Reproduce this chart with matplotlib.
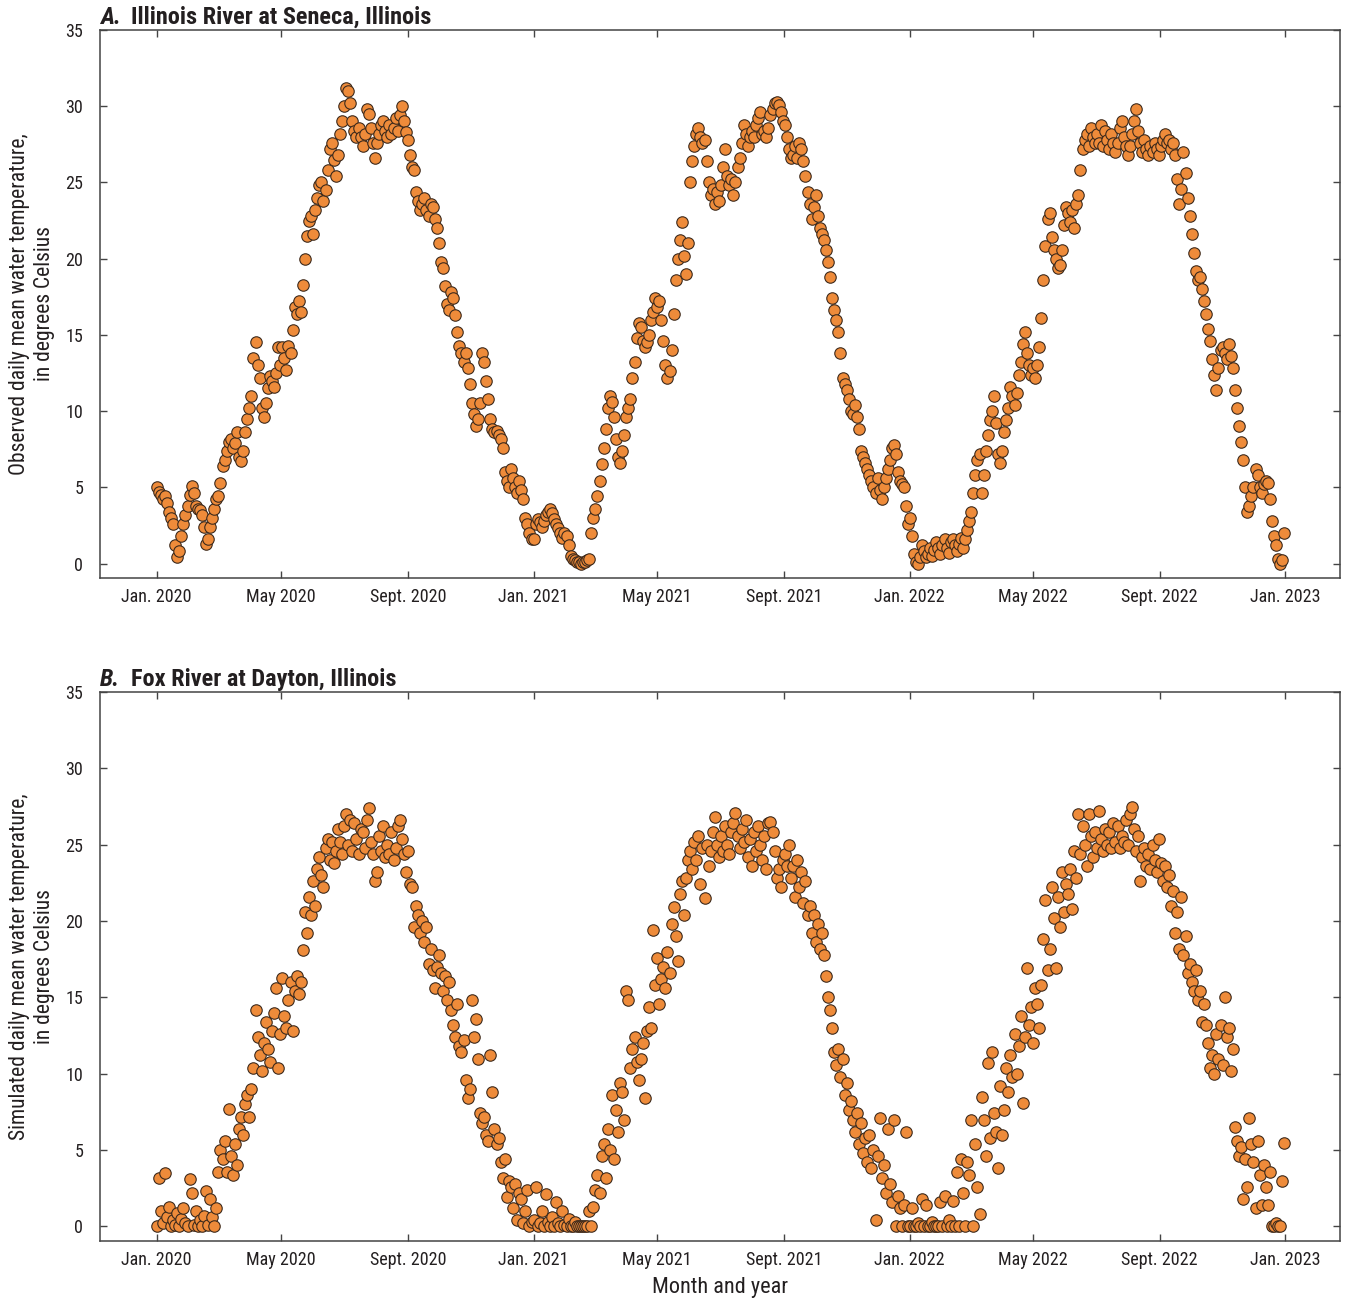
import numpy as np
import pandas as pd
import matplotlib
matplotlib.use("Agg")
import matplotlib.pyplot as plt
from matplotlib import font_manager

# observed daily mean water temperature, Illinois River at Seneca (every 2nd day)
seneca_2020 = [5.0, 4.7, 4.5, 4.2, 4.4, 4.0, 3.4, 3.0, 2.6, 1.2, 0.4, 0.8, 1.8, 2.6, 3.2, 3.8,
               4.5, 5.1, 4.6, 3.8, 3.6, 3.5, 3.2, 2.4, 1.3, 1.6, 2.4, 3.0, 3.6, 4.2,
               4.4, 5.3, 6.4, 6.8, 7.4, 8.0, 8.2, 7.6, 7.9, 8.6, 7.0, 6.7, 7.4, 8.6, 9.5, 10.2,
               11.0, 13.5, 14.5, 13.0, 12.2, 10.2, 9.6, 10.5, 11.5, 12.3, 12.0, 11.6, 12.5, 14.2, 13.0,
               14.2, 13.5, 12.7, 14.3, 13.8, 15.3, 16.8, 16.4, 17.2, 16.5, 18.3, 20.0, 21.5, 22.5, 22.8, 21.6,
               23.2, 24.0, 24.8, 25.0, 23.8, 24.5, 25.8, 27.2, 27.6, 26.5, 25.4, 26.8, 28.2, 29.0, 30.0,
               31.2, 31.0, 30.2, 29.0, 28.4, 28.0, 28.6, 28.0, 27.4, 28.2, 29.8, 29.5, 28.6, 27.6, 26.6,
               27.6, 28.2, 28.8, 29.0, 28.4, 28.0, 28.8, 28.2, 28.6, 29.2, 28.4, 29.4, 30.0, 29.0, 28.3,
               27.8, 26.8, 26.0, 25.8, 24.4, 23.8, 23.2, 23.6, 24.0, 23.2, 22.8, 23.6, 23.4, 22.6, 22.0,
               21.0, 19.8, 19.4, 18.2, 17.0, 16.6, 17.8, 17.4, 16.3, 15.2, 14.3, 13.8, 13.2, 13.8, 12.8, 11.8,
               10.5, 9.8, 9.0, 9.5, 10.5, 13.8, 13.2, 12.0, 10.8, 9.5, 8.8, 8.6, 8.7, 8.4, 8.2,
               7.6, 6.0, 5.4, 5.0, 6.2, 5.6, 5.0, 4.6, 5.4, 4.8, 4.2, 3.0, 2.6, 2.0, 1.6]
seneca_2021 = [1.6, 2.6, 2.9, 2.7, 2.4, 2.8, 3.2, 3.4, 3.6, 3.3, 2.9, 2.6, 2.3, 2.0, 1.7, 2.0,
               1.8, 1.2, 0.5, 0.3, 0.2, 0.1, 0.1, 0.0, 0.1, 0.1, 0.2, 0.3, 2.0, 3.0,
               3.6, 4.4, 5.4, 6.5, 7.6, 8.8, 10.2, 11.0, 10.6, 9.6, 8.2, 7.0, 6.6, 7.4, 8.4,
               9.6, 10.2, 10.8, 12.2, 13.2, 14.8, 15.8, 15.5, 14.6, 14.2, 14.5, 15.0, 16.0, 16.5, 17.4,
               16.8, 17.2, 16.0, 14.6, 13.0, 12.2, 12.6, 14.0, 16.4, 18.6, 20.0, 21.2, 22.4, 20.2, 19.0, 21.0,
               25.0, 26.4, 27.4, 28.2, 28.6, 28.0, 27.6, 27.8, 26.4, 25.0, 24.2, 24.6, 23.6, 24.4, 23.8,
               24.8, 26.0, 27.2, 25.4, 24.8, 25.2, 24.2, 25.0, 26.0, 26.6, 27.6, 28.8, 28.2, 27.4, 28.0,
               28.4, 28.0, 28.8, 29.2, 29.6, 28.2, 28.4, 28.0, 28.6, 29.4, 29.8, 30.2, 30.3, 30.1, 29.6, 29.0,
               28.8, 28.0, 27.2, 26.6, 26.8, 27.4, 26.6, 27.6, 27.2, 26.4, 25.4, 24.4, 23.6, 22.6, 23.4,
               24.2, 22.8, 22.0, 21.6, 21.2, 20.6, 19.8, 18.8, 17.4, 16.6, 16.0, 15.2, 13.8, 12.2, 11.8, 11.4,
               10.8, 10.0, 9.8, 10.4, 9.6, 8.8, 7.4, 7.0, 6.6, 6.2, 5.8, 5.4, 5.0, 4.6, 5.6,
               4.8, 4.2, 5.0, 5.6, 6.2, 6.8, 7.6, 7.8, 7.2, 6.0, 5.4, 5.2, 5.0, 3.8, 2.6]
seneca_2022 = [3.0, 1.8, 0.6, 0.1, 0.0, 0.4, 1.2, 0.8, 0.4, 0.6, 1.0, 0.5, 0.9, 1.4, 1.0, 0.6,
               1.2, 1.6, 1.0, 0.7, 1.4, 1.6, 1.2, 0.8, 1.3, 1.7, 1.0, 1.6, 2.2, 2.8,
               3.4, 4.6, 5.8, 6.8, 7.2, 4.6, 5.8, 7.4, 8.4, 9.4, 10.0, 11.0, 9.2, 7.2, 6.6,
               7.4, 8.6, 9.4, 10.2, 11.6, 11.0, 10.4, 11.2, 12.4, 13.2, 14.4, 15.2, 13.8, 13.0, 12.4,
               12.8, 12.2, 13.0, 14.2, 16.1, 18.6, 20.8, 22.6, 23.0, 21.4, 20.6, 20.0, 19.4, 19.6, 20.6, 22.2,
               23.4, 23.0, 22.4, 23.2, 22.0, 23.6, 24.2, 25.8, 27.2, 27.8, 28.2, 27.4, 28.6, 28.0, 27.6,
               28.2, 27.6, 28.8, 27.4, 28.4, 27.8, 27.2, 28.2, 27.6, 27.0, 27.6, 28.6, 29.0, 28.0, 27.4,
               26.8, 27.4, 28.2, 29.0, 29.8, 28.4, 27.6, 27.0, 27.8, 27.2, 26.8, 27.4, 27.0, 27.6, 27.2, 26.8,
               27.4, 27.8, 28.2, 27.6, 27.8, 27.2, 27.6, 26.8, 25.2, 23.6, 24.6, 27.0, 25.6, 24.0, 22.8,
               21.6, 20.4, 19.2, 18.6, 18.8, 18.0, 17.2, 16.4, 15.4, 14.6, 13.4, 12.4, 11.4, 12.8, 14.0, 14.2,
               13.8, 13.4, 14.4, 13.6, 12.8, 11.4, 10.2, 9.0, 8.0, 6.8, 5.0, 3.4, 3.8, 4.4, 5.0,
               6.2, 5.8, 5.0, 4.6, 5.2, 5.4, 5.3, 4.2, 2.8, 1.8, 1.2, 0.3, 0.0, 0.2, 2.0]

# simulated daily mean water temperature, Fox River at Dayton (every 2nd day)
dayton_2020 = [0.0, 3.2, 1.0, 0.2, 3.5, 0.6, 1.3, 0.0, 0.4, 0.1, 0.9, 0.0, 0.5, 1.2, 0.2, 0.0,
               3.1, 2.2, 0.1, 1.0, 0.0, 0.4, 0.0, 0.7, 2.3, 0.1, 1.8, 0.6, 0.0, 1.2,
               3.6, 5.0, 4.4, 5.6, 3.6, 7.7, 4.6, 3.4, 5.4, 4.0, 6.4, 7.2, 6.0, 8.0, 8.6, 7.2,
               9.0, 10.4, 14.2, 12.4, 11.2, 10.2, 12.0, 13.4, 11.6, 10.8, 12.8, 14.0, 15.6, 10.4, 12.6,
               16.3, 13.8, 13.0, 14.8, 16.0, 12.8, 15.4, 16.4, 15.2, 16.0, 18.1, 20.6, 19.2, 21.6, 20.4, 22.6,
               21.0, 23.4, 24.2, 23.0, 22.2, 24.8, 25.4, 24.0, 25.2, 23.8, 24.6, 26.0, 25.2, 24.4, 26.2,
               27.0, 25.0, 26.6, 24.6, 26.4, 25.4, 24.4, 26.0, 25.8, 24.8, 26.6, 27.4, 25.2, 24.4, 22.6,
               23.2, 25.6, 24.6, 26.2, 24.2, 25.0, 24.4, 25.8, 24.0, 24.8, 26.2, 26.6, 25.4, 24.4, 23.2,
               24.6, 22.4, 22.2, 19.6, 21.0, 20.4, 19.2, 20.0, 18.6, 19.6, 17.2, 18.2, 16.8, 15.6, 17.0,
               17.8, 16.6, 15.4, 16.4, 14.8, 16.0, 14.2, 13.2, 12.4, 14.6, 11.8, 11.4, 12.2, 9.6, 8.4, 9.0,
               14.8, 12.4, 13.6, 11.0, 7.4, 6.8, 7.2, 6.0, 5.6, 11.2, 8.8, 6.4, 5.4, 5.8, 4.2,
               3.2, 4.4, 1.9, 3.0, 2.6, 1.2, 2.8, 0.4, 2.2, 1.8, 0.2, 1.0, 2.4, 0.0, 0.3]
dayton_2021 = [0.4, 2.6, 0.0, 0.2, 1.0, 0.0, 2.1, 0.3, 0.0, 0.6, 0.0, 1.6, 0.2, 0.0, 1.0, 0.1,
               0.0, 0.5, 0.0, 0.0, 0.3, 0.0, 0.0, 0.0, 0.0, 0.0, 0.0, 1.0, 0.0, 1.3,
               2.4, 3.4, 2.2, 4.6, 5.4, 3.2, 6.4, 5.0, 8.6, 4.4, 7.6, 6.2, 9.4, 8.8, 7.0,
               15.4, 14.8, 10.4, 11.6, 12.4, 10.8, 9.6, 11.0, 12.0, 8.4, 12.8, 14.4, 13.0, 19.4, 15.8,
               17.6, 14.6, 16.2, 17.0, 15.6, 18.0, 16.6, 19.8, 20.9, 19.0, 17.4, 21.8, 22.6, 20.4, 22.8, 24.0,
               24.6, 23.4, 25.2, 24.0, 25.6, 22.4, 24.8, 21.5, 25.0, 23.6, 24.6, 25.8, 26.8, 25.0, 24.2,
               25.6, 24.6, 26.2, 25.0, 24.4, 25.8, 26.4, 27.1, 25.6, 24.8, 26.0, 25.2, 26.6, 24.2, 25.4,
               23.6, 25.8, 24.6, 26.2, 25.0, 24.0, 25.6, 23.4, 26.4, 26.5, 25.8, 24.6, 22.8, 23.4, 22.2, 24.0,
               24.4, 23.6, 25.0, 22.8, 23.6, 21.6, 24.0, 22.2, 23.2, 21.2, 22.6, 20.4, 21.0, 19.2, 20.4,
               18.6, 19.8, 18.2, 19.2, 17.8, 16.4, 15.0, 14.2, 13.0, 11.4, 10.6, 11.6, 9.8, 11.0, 8.6, 9.4,
               7.6, 8.2, 7.0, 6.2, 7.4, 5.4, 6.8, 4.8, 5.8, 4.2, 6.0, 3.8, 5.0, 0.4, 4.6,
               7.1, 3.2, 4.0, 2.2, 6.4, 2.8, 1.6, 7.0, 0.0, 2.0, 1.2, 0.0, 1.4, 6.2, 0.0]
dayton_2022 = [0.0, 1.2, 0.0, 0.0, 0.2, 0.0, 1.8, 0.0, 1.4, 0.0, 0.0, 0.3, 0.0, 0.0, 0.0, 1.6,
               0.0, 2.0, 0.0, 0.4, 0.0, 1.7, 0.0, 3.6, 0.0, 4.4, 2.2, 0.0, 4.2, 3.4,
               7.0, 0.0, 5.4, 2.6, 0.8, 8.5, 7.0, 4.6, 10.7, 5.8, 11.4, 7.4, 6.2, 3.8, 9.2,
               6.0, 7.6, 10.4, 8.8, 11.2, 9.8, 12.6, 10.0, 11.8, 13.8, 8.1, 12.4, 16.9, 13.2, 14.4,
               12.0, 15.6, 14.6, 13.0, 15.8, 18.8, 21.4, 16.8, 18.2, 22.2, 20.2, 16.9, 21.6, 19.6, 23.2, 20.6,
               22.4, 21.8, 23.4, 20.8, 24.6, 22.8, 27.0, 24.4, 26.2, 25.0, 23.6, 27.0, 25.6, 24.2, 25.8,
               24.8, 27.2, 25.4, 24.6, 26.0, 25.0, 25.8, 24.8, 26.4, 25.2, 26.2, 24.8, 25.6, 25.2, 26.6,
               25.0, 27.0, 27.5, 26.0, 24.6, 25.6, 22.6, 24.2, 24.8, 23.6, 24.4, 23.4, 25.0, 24.0, 23.2, 25.4,
               23.8, 22.6, 23.6, 22.2, 23.0, 21.0, 22.0, 19.2, 20.6, 18.2, 21.6, 17.8, 19.0, 16.6, 17.2,
               16.0, 15.4, 16.8, 14.8, 15.4, 13.4, 14.6, 13.2, 12.0, 10.4, 11.2, 10.0, 12.6, 11.0, 13.2, 10.6,
               15.0, 12.4, 13.0, 10.2, 11.6, 6.5, 5.6, 4.6, 5.2, 1.8, 4.4, 2.6, 7.1, 5.4, 4.2,
               1.2, 5.6, 3.4, 1.4, 4.0, 2.6, 1.4, 3.6, 0.0, 0.0, 0.2, 0.0, 0.0, 3.0, 5.5]

tick_dates = ["2020-01-01", "2020-05-01", "2020-09-01", "2021-01-01", "2021-05-01",
              "2021-09-01", "2022-01-01", "2022-05-01", "2022-09-01", "2023-01-01"]
tick_labels = ["Jan. 2020", "May 2020", "Sept. 2020", "Jan. 2021", "May 2021",
               "Sept. 2021", "Jan. 2022", "May 2022", "Sept. 2022", "Jan. 2023"]

# look for a narrow sans face, fall back to Liberation Sans
entries = font_manager.fontManager.ttflist
family, stretch, narrow = "Liberation Sans", "normal", False
for name in ["Liberation Sans Narrow", "Roboto Condensed", "Open Sans Condensed", "Noto Sans Condensed"]:
    if any(f.name == name for f in entries):
        family, narrow = name, True
        break
if not narrow:
    for name in ["Roboto", "Noto Sans", "Open Sans", "Inter"]:
        if any(f.name == name and str(f.stretch) in ("condensed", "semi-condensed") for f in entries):
            family, stretch, narrow = name, "condensed", True
            break
plt.rcParams["font.family"] = [family, "DejaVu Sans"]
plt.rcParams["font.stretch"] = stretch

if narrow:
    TICK, TITLE, YLAB, XLAB = 13, 17.5, 15.5, 16
else:
    TICK, TITLE, YLAB, XLAB = 11.5, 15, 12.5, 13.5

INK = "#231f20"
FILL = "#ee8b3a"
EDGE = "#3d2a1c"


def every_other_day(year, vals):
    return pd.Timestamp(f"{year}-01-01") + pd.to_timedelta(2 * np.arange(len(vals)), unit="D")


def panel(ax, series, letter, title, ylabel):
    for year, vals in series:
        ax.scatter(every_other_day(year, vals), vals, s=68, c=FILL,
                   edgecolors=EDGE, linewidths=0.8, zorder=3)
    ax.set_xlim(pd.Timestamp("2019-11-07"), pd.Timestamp("2023-02-23"))
    ax.set_ylim(-0.95, 35)
    ax.set_yticks(range(0, 36, 5))
    ax.set_xticks(pd.to_datetime(tick_dates))
    ax.set_xticklabels(tick_labels)
    ax.tick_params(which="both", direction="in", top=True, right=True,
                   length=5, width=1, color="#444444", labelsize=TICK, labelcolor=INK)
    ax.tick_params(axis="y", pad=12)
    ax.tick_params(axis="x", pad=7)
    for sp in ax.spines.values():
        sp.set_color("#444444")
        sp.set_linewidth(1.1)
    ax.set_ylabel(ylabel, fontsize=YLAB, color=INK, linespacing=1.3)
    ax.yaxis.set_label_coords(-0.036, 0.5)
    ax.text(0.0, 1.011, letter, transform=ax.transAxes, fontsize=TITLE,
            fontweight="bold", fontstyle="italic", color=INK, va="baseline")
    ax.text(0.025, 1.011, title, transform=ax.transAxes, fontsize=TITLE,
            fontweight="bold", color=INK, va="baseline")


fig = plt.figure(figsize=(13.47, 12.99), dpi=100)
ax_a = fig.add_axes([100 / 1347, 1 - 578 / 1299, 1240 / 1347, 548 / 1299])
ax_b = fig.add_axes([100 / 1347, 1 - 1241 / 1299, 1240 / 1347, 549 / 1299])

panel(ax_a, [(2020, seneca_2020), (2021, seneca_2021), (2022, seneca_2022)],
      "A.", "Illinois River at Seneca, Illinois",
      "Observed daily mean water temperature,\nin degrees Celsius")
panel(ax_b, [(2020, dayton_2020), (2021, dayton_2021), (2022, dayton_2022)],
      "B.", "Fox River at Dayton, Illinois",
      "Simulated daily mean water temperature,\nin degrees Celsius")
ax_b.set_xlabel("Month and year", fontsize=XLAB, color=INK, labelpad=6)

fig.savefig("out.png", dpi=100)
